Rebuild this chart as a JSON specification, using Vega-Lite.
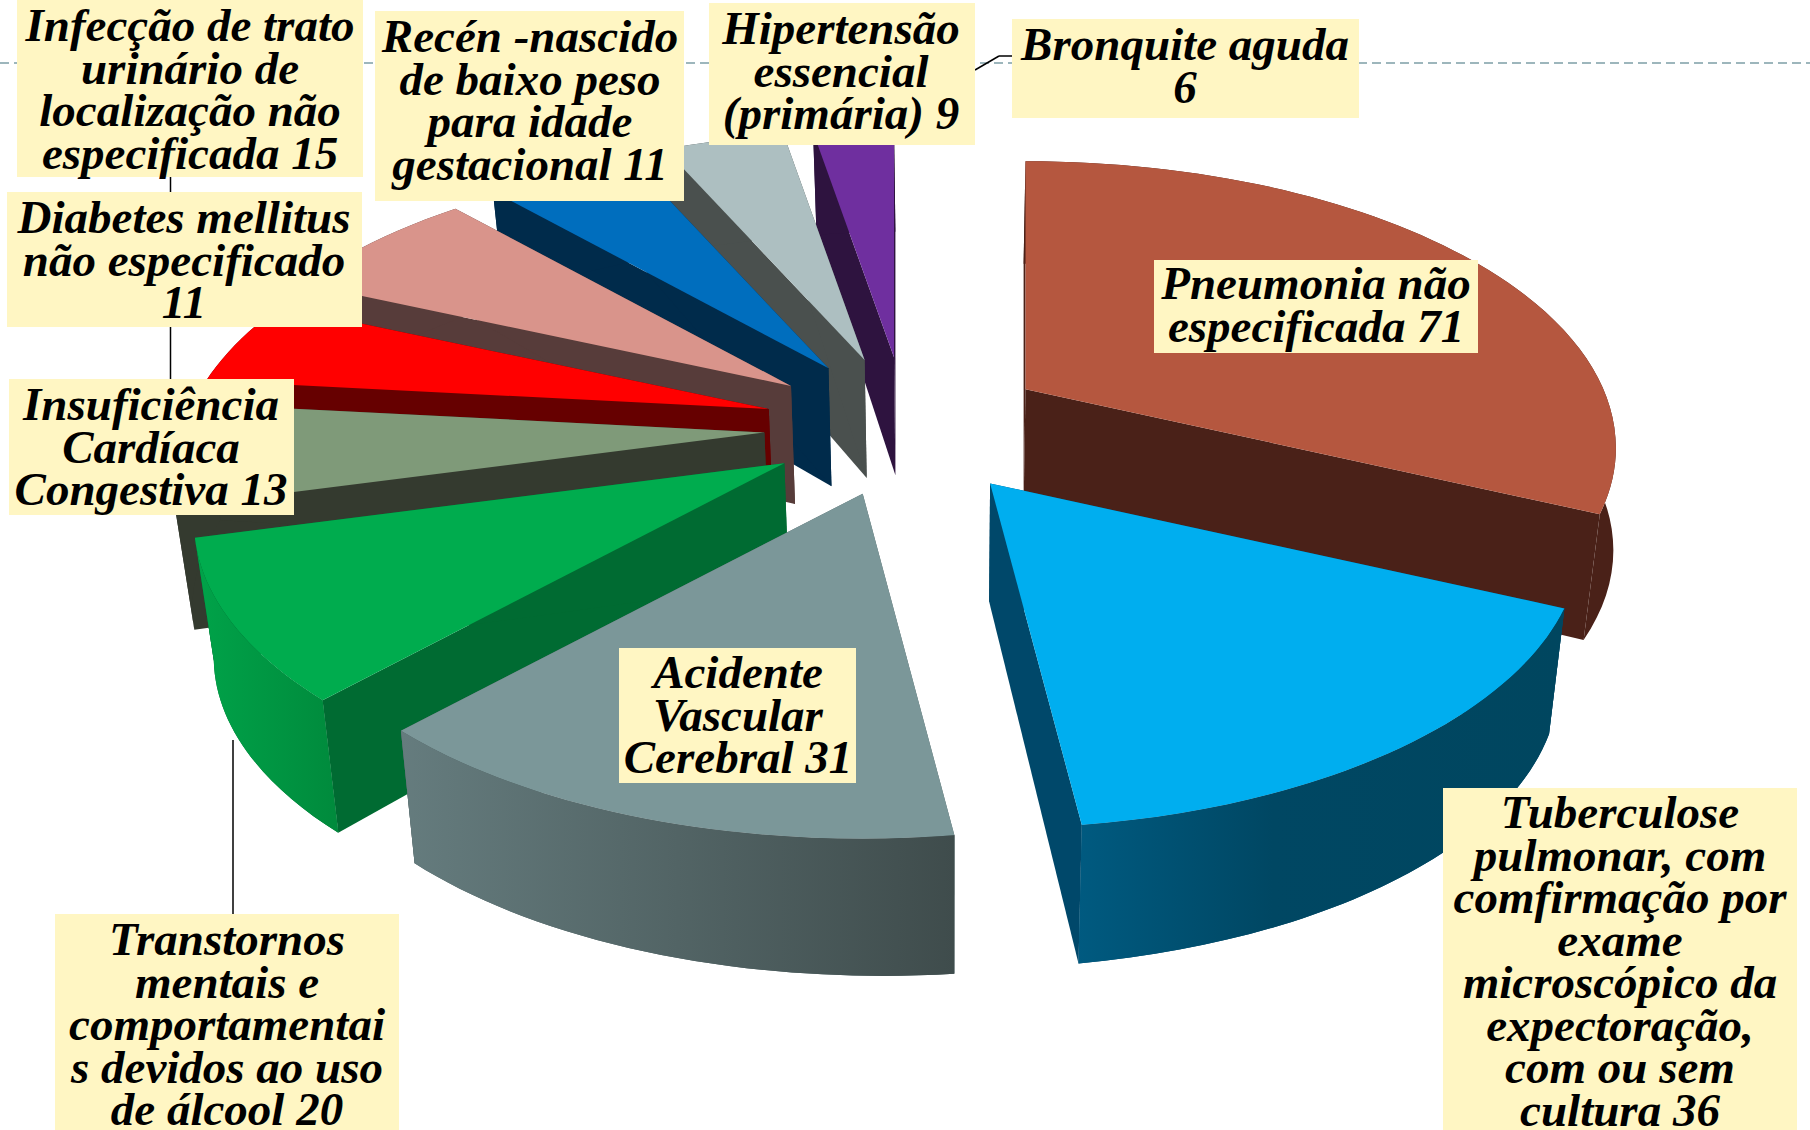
{"$schema":"https://vega.github.io/schema/vega-lite/v6.json","width":1810,"height":1130,"padding":0,"autosize":"none","background":"white","config":{"view":{"stroke":null},"axis":{"grid":false},"text":{"font":"Liberation Serif","fontWeight":"bold","fontStyle":"italic","fontSize":47,"lineHeight":42.5,"lineBreak":"\n","align":"center","baseline":"middle","color":"black"}},
"data":{"values":[
{"doenca":"Pneumonia","valor":71,"rotulo":"Pneumonia não\nespecificada 71"},
{"doenca":"Tuberculose","valor":36,"rotulo":"Tuberculose\npulmonar, com\ncomfirmação por\nexame\nmicroscópico da\nexpectoração,\ncom ou sem\ncultura 36"},
{"doenca":"AVC","valor":31,"rotulo":"Acidente\nVascular\nCerebral 31"},
{"doenca":"Transtornos","valor":20,"rotulo":"Transtornos\nmentais e\ncomportamentai\ns devidos ao uso\nde álcool 20"},
{"doenca":"ICC","valor":13,"rotulo":"Insuficiência\nCardíaca\nCongestiva 13"},
{"doenca":"Diabetes","valor":11,"rotulo":"Diabetes mellitus\nnão especificado\n11"},
{"doenca":"ITU","valor":15,"rotulo":"Infecção de trato\nurinário de\nlocalização não\nespecificada  15"},
{"doenca":"RN","valor":11,"rotulo":"Recén -nascido\nde baixo peso\npara idade\ngestacional 11"},
{"doenca":"Hipertensao","valor":9,"rotulo":"Hipertensão\nessencial\n(primária) 9"},
{"doenca":"Bronquite","valor":6,"rotulo":"Bronquite aguda\n6"}
]},
"transform":[
{"joinaggregate":[{"op":"sum","field":"valor","as":"total"}]},
{"stack":"valor","groupby":[],"as":["v0","v1"]},
{"calculate":"2*PI*datum.v0/datum.total","as":"t0"},
{"calculate":"2*PI*datum.v1/datum.total","as":"t1"},
{"calculate":"(datum.t0+datum.t1)/2","as":"tm"},
{"calculate":"906+142*sin(datum.tm)","as":"cx"},
{"calculate":"427-70*cos(datum.tm)","as":"cy"},
{"calculate":"round(5780*sin(datum.t0)/(1+0.2043*cos(datum.t0)))/10","as":"x0"},
{"calculate":"round(-2746*cos(datum.t0)/(1+0.2043*cos(datum.t0)))/10","as":"y0"},
{"calculate":"round(5780*sin(datum.t1)/(1+0.2043*cos(datum.t1)))/10","as":"x1"},
{"calculate":"round(-2746*cos(datum.t1)/(1+0.2043*cos(datum.t1)))/10","as":"y1"},
{"calculate":"round(datum.y0*10+1180/(1+0.15*cos(datum.t0)))/10","as":"b0"},
{"calculate":"round(datum.y1*10+1180/(1+0.15*cos(datum.t1)))/10","as":"b1"},
{"calculate":"round((datum.x0-0.025*(datum.x0+datum.cx-950))*10)/10","as":"p0"},
{"calculate":"round((datum.x1-0.025*(datum.x1+datum.cx-950))*10)/10","as":"p1"},
{"calculate":"round(-0.25*(datum.cx-950))/10","as":"pc"},
{"calculate":"'M0,0L'+datum.x0+','+datum.y0+'L'+datum.p0+','+datum.b0+'L'+datum.pc+',118Z'","as":"w0"},
{"calculate":"'M0,0L'+datum.x1+','+datum.y1+'L'+datum.p1+','+datum.b1+'L'+datum.pc+',118Z'","as":"w1"},
{"calculate":"'M'+datum.x0+','+datum.y0+'A590.4,286.5 0 0 1 '+datum.x1+','+datum.y1+'L'+datum.p1+','+datum.b1+'A590.4,286.5 0 0 0 '+datum.p0+','+datum.b0+'Z'","as":"o"},
{"calculate":"'M0,0L'+datum.x0+','+datum.y0+'A590.4,286.5 0 0 1 '+datum.x1+','+datum.y1+'Z'","as":"t"}
],
"layer":[
{"data":{"values":[{}]},"mark":{"type":"rule","color":"#7d9ea6","strokeWidth":1.5,"strokeDash":[9,5]},"encoding":{"x":{"datum":0,"type":"quantitative","scale":{"domain":[0,1810],"nice":false},"axis":null},"x2":{"datum":1810},"y":{"datum":63,"type":"quantitative","scale":{"domain":[1130,0],"nice":false},"axis":null}}},
{"data":{"values":[{}]},"mark":{"type":"rule","color":"black","strokeWidth":1.5},"encoding":{"x":{"datum":170.5,"type":"quantitative"},"y":{"datum":177,"type":"quantitative"},"y2":{"datum":380}}},
{"data":{"values":[{}]},"mark":{"type":"rule","color":"black","strokeWidth":1.5},"encoding":{"x":{"datum":233,"type":"quantitative"},"y":{"datum":740,"type":"quantitative"},"y2":{"datum":914}}},
{"data":{"values":[{}]},"mark":{"type":"rule","color":"black","strokeWidth":1.5},"encoding":{"x":{"datum":975,"type":"quantitative"},"x2":{"datum":999},"y":{"datum":70,"type":"quantitative"},"y2":{"datum":56}}},
{"data":{"values":[{}]},"mark":{"type":"rule","color":"black","strokeWidth":1.5},"encoding":{"x":{"datum":999,"type":"quantitative"},"x2":{"datum":1012},"y":{"datum":56,"type":"quantitative"}}},
{"transform":[
{"fold":["w0","w1","o","t"],"as":["parte","caminho"]},
{"calculate":"indexof(['Bronquite','Hipertensao','RN','ITU','Diabetes','ICC','Pneumonia','Transtornos','Tuberculose','AVC'],datum.doenca)","as":"plano"},
{"calculate":"datum.plano*10+indexof(['w0','w1','o','t'],datum.parte)","as":"ordem"},
{"calculate":"datum.doenca+'|'+(datum.parte=='t'?'t':'w')","as":"tom"}
],
"mark":{"type":"point","filled":true,"size":4,"opacity":1,"clip":false},
"encoding":{
"x":{"field":"cx","type":"quantitative"},
"y":{"field":"cy","type":"quantitative"},
"shape":{"field":"caminho","type":"nominal","scale":null},
"order":{"field":"ordem","type":"quantitative"},
"color":{"field":"tom","type":"nominal","legend":null,"scale":{
"domain":["Pneumonia|t","Pneumonia|w","Tuberculose|t","Tuberculose|w","AVC|t","AVC|w","Transtornos|t","Transtornos|w","ICC|t","ICC|w","Diabetes|t","Diabetes|w","ITU|t","ITU|w","RN|t","RN|w","Hipertensao|t","Hipertensao|w","Bronquite|t","Bronquite|w"],
"range":["#B5573F","#4A2118","#00AEEF","#00486A","#7B9799","#4F6263","#00AC4E","#006B32","#7F9A79","#343A2F","#FF0000","#660000","#D9948B","#573C3A","#006EBE","#002B4B","#ADBFC1","#4A504E","#6F2F9F","#2E133F"]}}
}},
{"transform":[{"filter":"datum.doenca=='Tuberculose'"}],"mark":{"type":"point","filled":true,"size":4,"opacity":1,"clip":false,"color":{"gradient":"linear","x1":0,"x2":1,"y1":0,"y2":0,"stops":[{"offset":0,"color":"#005A80"},{"offset":0.4,"color":"#004763"},{"offset":1,"color":"#00465F"}]}},"encoding":{"x":{"field":"cx","type":"quantitative"},"y":{"field":"cy","type":"quantitative"},"shape":{"field":"o","type":"nominal","scale":null}}},
{"transform":[{"filter":"datum.doenca=='AVC'"}],"mark":{"type":"point","filled":true,"size":4,"opacity":1,"clip":false,"color":{"gradient":"linear","x1":0,"x2":1,"y1":0,"y2":0,"stops":[{"offset":0,"color":"#657C7E"},{"offset":1,"color":"#3F4C4C"}]}},"encoding":{"x":{"field":"cx","type":"quantitative"},"y":{"field":"cy","type":"quantitative"},"shape":{"field":"o","type":"nominal","scale":null}}},
{"transform":[{"filter":"datum.doenca=='Transtornos'"}],"mark":{"type":"point","filled":true,"size":4,"opacity":1,"clip":false,"color":{"gradient":"linear","x1":0,"x2":1,"y1":0,"y2":0,"stops":[{"offset":0,"color":"#00A349"},{"offset":1,"color":"#008A3C"}]}},"encoding":{"x":{"field":"cx","type":"quantitative"},"y":{"field":"cy","type":"quantitative"},"shape":{"field":"o","type":"nominal","scale":null}}},
{"transform":[{"filter":"datum.doenca=='ITU'"}],"mark":{"type":"rect","color":"#FFF6C3"},"encoding":{"x":{"datum":17,"type":"quantitative"},"x2":{"datum":363},"y":{"datum":0,"type":"quantitative"},"y2":{"datum":177}}},
{"transform":[{"filter":"datum.doenca=='RN'"}],"mark":{"type":"rect","color":"#FFF6C3"},"encoding":{"x":{"datum":375,"type":"quantitative"},"x2":{"datum":684},"y":{"datum":11,"type":"quantitative"},"y2":{"datum":201}}},
{"transform":[{"filter":"datum.doenca=='Diabetes'"}],"mark":{"type":"rect","color":"#FFF6C3"},"encoding":{"x":{"datum":7,"type":"quantitative"},"x2":{"datum":362},"y":{"datum":192,"type":"quantitative"},"y2":{"datum":327}}},
{"transform":[{"filter":"datum.doenca=='ICC'"}],"mark":{"type":"rect","color":"#FFF6C3"},"encoding":{"x":{"datum":9,"type":"quantitative"},"x2":{"datum":294},"y":{"datum":379,"type":"quantitative"},"y2":{"datum":515}}},
{"transform":[{"filter":"datum.doenca=='Hipertensao'"}],"mark":{"type":"rect","color":"#FFF6C3"},"encoding":{"x":{"datum":709,"type":"quantitative"},"x2":{"datum":975},"y":{"datum":3,"type":"quantitative"},"y2":{"datum":145}}},
{"transform":[{"filter":"datum.doenca=='Bronquite'"}],"mark":{"type":"rect","color":"#FFF6C3"},"encoding":{"x":{"datum":1012,"type":"quantitative"},"x2":{"datum":1359},"y":{"datum":19,"type":"quantitative"},"y2":{"datum":118}}},
{"transform":[{"filter":"datum.doenca=='Pneumonia'"}],"mark":{"type":"rect","color":"#FFF6C3"},"encoding":{"x":{"datum":1154,"type":"quantitative"},"x2":{"datum":1478},"y":{"datum":260,"type":"quantitative"},"y2":{"datum":353}}},
{"transform":[{"filter":"datum.doenca=='AVC'"}],"mark":{"type":"rect","color":"#FFF6C3"},"encoding":{"x":{"datum":619,"type":"quantitative"},"x2":{"datum":856},"y":{"datum":648,"type":"quantitative"},"y2":{"datum":783}}},
{"transform":[{"filter":"datum.doenca=='Transtornos'"}],"mark":{"type":"rect","color":"#FFF6C3"},"encoding":{"x":{"datum":55,"type":"quantitative"},"x2":{"datum":399},"y":{"datum":914,"type":"quantitative"},"y2":{"datum":1130}}},
{"transform":[{"filter":"datum.doenca=='Tuberculose'"}],"mark":{"type":"rect","color":"#FFF6C3"},"encoding":{"x":{"datum":1443,"type":"quantitative"},"x2":{"datum":1797},"y":{"datum":788,"type":"quantitative"},"y2":{"datum":1130}}},
{"mark":"text","transform":[{"filter":"datum.doenca=='ITU'"}],"encoding":{"text":{"field":"rotulo"},"x":{"datum":190,"type":"quantitative"},"y":{"datum":27,"type":"quantitative"}}},
{"mark":"text","transform":[{"filter":"datum.doenca=='RN'"}],"encoding":{"text":{"field":"rotulo"},"x":{"datum":530,"type":"quantitative"},"y":{"datum":38,"type":"quantitative"}}},
{"mark":"text","transform":[{"filter":"datum.doenca=='Diabetes'"}],"encoding":{"text":{"field":"rotulo"},"x":{"datum":184,"type":"quantitative"},"y":{"datum":219,"type":"quantitative"}}},
{"mark":"text","transform":[{"filter":"datum.doenca=='ICC'"}],"encoding":{"text":{"field":"rotulo"},"x":{"datum":151,"type":"quantitative"},"y":{"datum":406,"type":"quantitative"}}},
{"mark":"text","transform":[{"filter":"datum.doenca=='Hipertensao'"}],"encoding":{"text":{"field":"rotulo"},"x":{"datum":841,"type":"quantitative"},"y":{"datum":30,"type":"quantitative"}}},
{"mark":"text","transform":[{"filter":"datum.doenca=='Bronquite'"}],"encoding":{"text":{"field":"rotulo"},"x":{"datum":1185,"type":"quantitative"},"y":{"datum":46,"type":"quantitative"}}},
{"mark":"text","transform":[{"filter":"datum.doenca=='Pneumonia'"}],"encoding":{"text":{"field":"rotulo"},"x":{"datum":1316,"type":"quantitative"},"y":{"datum":285,"type":"quantitative"}}},
{"mark":"text","transform":[{"filter":"datum.doenca=='AVC'"}],"encoding":{"text":{"field":"rotulo"},"x":{"datum":738,"type":"quantitative"},"y":{"datum":674,"type":"quantitative"}}},
{"mark":"text","transform":[{"filter":"datum.doenca=='Transtornos'"}],"encoding":{"text":{"field":"rotulo"},"x":{"datum":227,"type":"quantitative"},"y":{"datum":941,"type":"quantitative"}}},
{"mark":"text","transform":[{"filter":"datum.doenca=='Tuberculose'"}],"encoding":{"text":{"field":"rotulo"},"x":{"datum":1620,"type":"quantitative"},"y":{"datum":814,"type":"quantitative"}}}
]}
